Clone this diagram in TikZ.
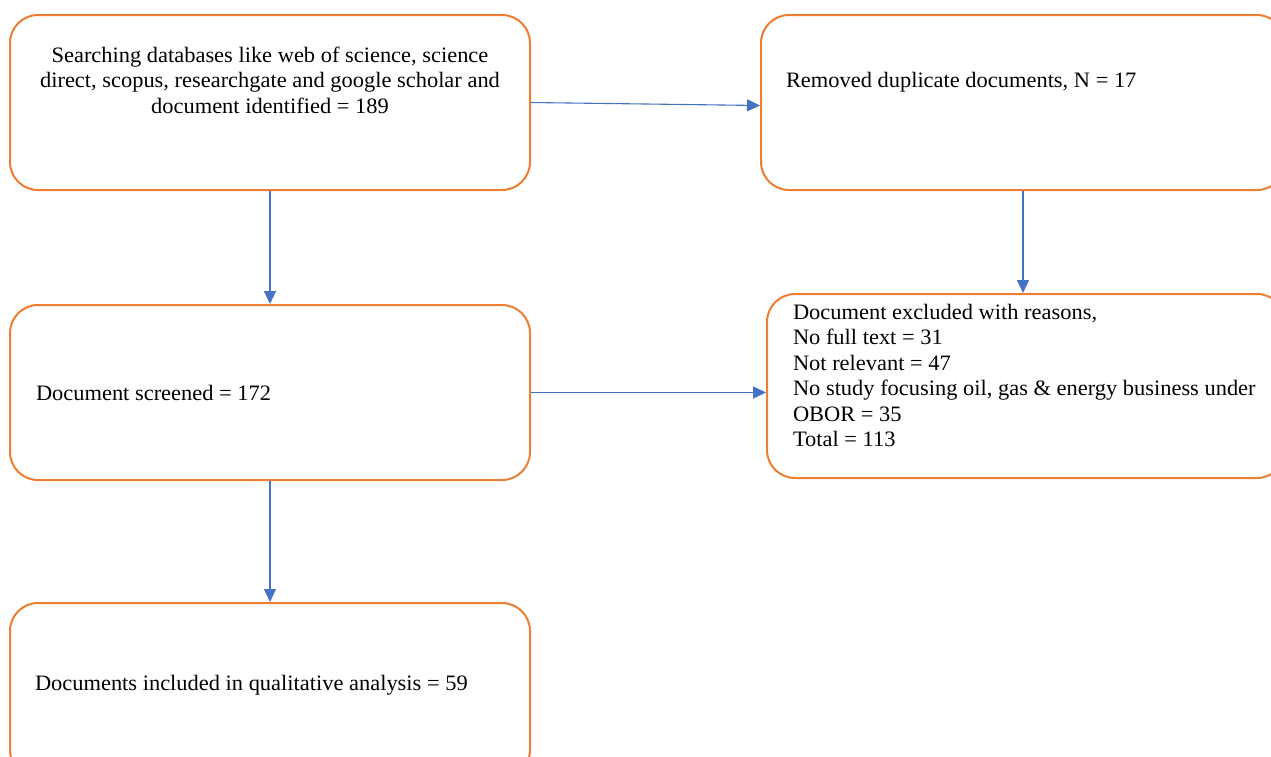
\documentclass[tikz,border=0pt]{standalone}
\usepackage{fontspec}
\setmainfont{Liberation Serif}[FakeStretch=1.02]
\usetikzlibrary{positioning, arrows.meta}

\definecolor{boxorange}{HTML}{ED7D31}
\definecolor{flowblue}{HTML}{4472C4}

% box body: height, width, top space, text
\newcommand{\stagetext}[4]{\parbox[c][#1][t]{#2}{\fontsize{22pt}{25.5pt}\selectfont\vspace*{#3}#4}}

\begin{document}
\begin{tikzpicture}[x=1pt, y=-1pt, on grid,
    stage/.style={draw=boxorange, line width=2pt, rounded corners=28pt, inner sep=0pt,
                  minimum width=520pt, minimum height=175pt},
    flow/.style={draw=flowblue, line width=1.1pt, -{Triangle[length=13pt, width=12pt]}}]
    \useasboundingbox (0,0) rectangle (1271,756);

    \node[stage] (search) at (270,102.5)
        {\stagetext{175pt}{500pt}{32pt}{\centering Searching databases like web of science, science\\
         direct, scopus, researchgate and google scholar and\\ document identified = 189}};
    \node[stage, minimum width=524pt, right=753pt of search] (dupl)
        {\stagetext{175pt}{474pt}{57pt}{\raggedright Removed duplicate documents, N = 17}};
    \node[stage, below=290pt of search] (screen)
        {\stagetext{175pt}{468pt}{80pt}{\raggedright Document screened = 172}};
    \node[stage, minimum width=518pt, minimum height=184pt, below right=283.5pt and 3pt of dupl] (excl)
        {\stagetext{184pt}{466pt}{10pt}{\raggedright Document excluded with reasons,\\
         No full text = 31\\
         Not relevant = 47\\
         \mbox{No study focusing oil, gas \& energy business under}\\
         OBOR = 35\\
         Total = 113}};
    \node[stage, below=298pt of screen] (incl)
        {\stagetext{175pt}{470pt}{72pt}{\raggedright Documents included in qualitative analysis = 59}};

    \draw[flow] (search.east) -- ([yshift=-3pt]dupl.west);
    \draw[flow] (search.south) -- (screen.north);
    \draw[flow] (dupl.south) -- (dupl.south |- excl.north);
    \draw[flow] (screen.east) -- (screen.east -| excl.west);
    \draw[flow] (screen.south) -- (incl.north);
\end{tikzpicture}
\end{document}
